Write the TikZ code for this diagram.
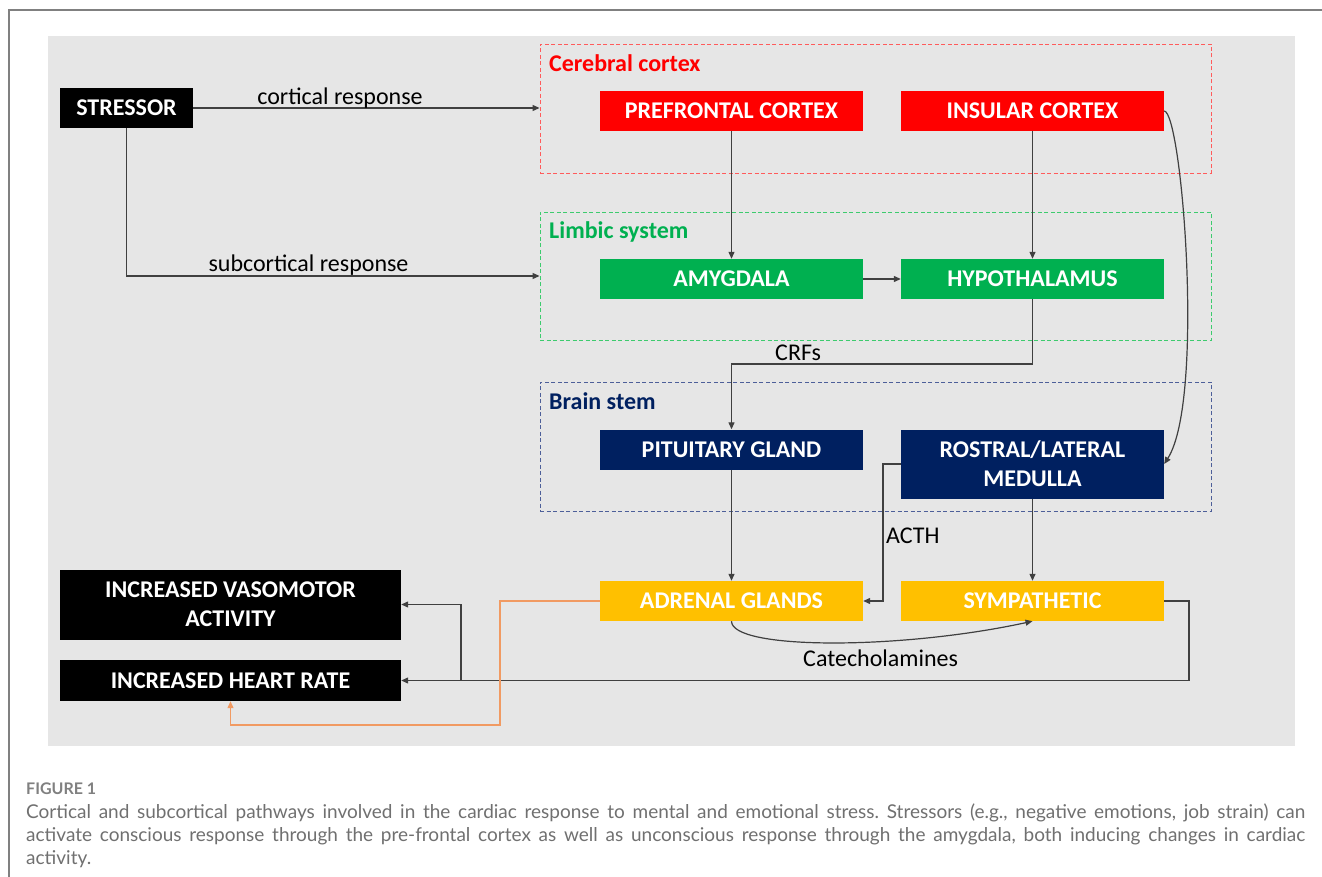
\documentclass[tikz,border=0pt]{standalone}
\usepackage{fontspec}
\setmainfont{Carlito}
\newfontfamily\capfont{Lato}
\usetikzlibrary{arrows.meta}
\definecolor{bggray}{HTML}{E6E6E6}
\definecolor{framegray}{HTML}{808080}
\definecolor{linec}{HTML}{404040}
\definecolor{cred}{HTML}{FF0000}
\definecolor{cgreen}{HTML}{00B050}
\definecolor{cnavy}{HTML}{002060}
\definecolor{cgold}{HTML}{FFC000}
\definecolor{dred}{HTML}{FF5B5B}
\definecolor{dgreen}{HTML}{3DCB6E}
\definecolor{dnavy}{HTML}{4D5F99}
\definecolor{corange}{HTML}{F19A62}
\definecolor{capgray}{HTML}{707070}
\begin{document}
\frenchspacing
\begin{tikzpicture}[x=1pt,y=-1pt,
  box/.style={inner sep=0pt, minimum width=263pt, minimum height=40pt, text=white,
    font=\fontsize{24}{29}\selectfont\bfseries, align=center},
  grp/.style={draw, dash pattern=on 4pt off 2.5pt, line width=0.9pt,
    minimum width=671pt, minimum height=129pt, inner sep=0pt},
  grplbl/.style={font=\fontsize{24}{29}\selectfont\bfseries, inner sep=0pt, anchor=base west},
  conn/.style={draw=linec, line width=1.2pt, -{Triangle[length=7pt,width=6pt]}},
  oconn/.style={draw=corange, line width=1.2pt, -{Triangle[length=7pt,width=6pt]}},
  lbl/.style={font=\fontsize{24}{29}\selectfont, text=black, inner sep=0pt},
  captxt/.style={anchor=base west, inner sep=0pt, text=capgray, font=\capfont\fontsize{19}{22}\selectfont}]
\useasboundingbox (0,0) rectangle (1322,877);
\fill[white] (0,0) rectangle (1322,877);
\draw[framegray, line width=1.2pt] (9,877) -- (9,10) -- (1322,10);
\fill[bggray] (48,36) rectangle (1295,746);

% groups
\node[grp, draw=dred] (cer) at (875.5,108.5) {};
\node[grp, draw=dgreen, minimum height=128pt] (lim) at (875.5,276) {};
\node[grp, draw=dnavy] (bst) at (875.5,446.5) {};
\node[grplbl, text=cred] (cerl) at (549,72) {Cerebral cortex};
\node[grplbl, text=cgreen] (liml) at (549,239) {Limbic system};
\node[grplbl, text=cnavy] (bstl) at (549,409) {Brain stem};

% nodes
\node[box, fill=black, minimum width=133pt] (stressor) at (126.5,108) {STRESSOR};
\node[box, fill=cred] (pfc) at (731.5,111) {PREFRONTAL CORTEX};
\node[box, fill=cred] (ins) at (1032.5,111) {INSULAR CORTEX};
\node[box, fill=cgreen] (amy) at (731.5,279) {AMYGDALA};
\node[box, fill=cgreen] (hyp) at (1032.5,279) {HYPOTHALAMUS};
\node[box, fill=cnavy] (pit) at (731.5,449.5) {PITUITARY GLAND};
\node[box, fill=cnavy, minimum height=69pt] (med) at (1032.5,464) {ROSTRAL/LATERAL\\MEDULLA};
\node[box, fill=cgold] (adr) at (731.5,601) {ADRENAL GLANDS};
\node[box, fill=cgold] (sym) at (1032.5,601) {SYMPATHETIC};
\node[box, fill=black, minimum width=341pt, minimum height=70pt] (vaso) at (230.5,604.5) {INCREASED VASOMOTOR\\ACTIVITY};
\node[box, fill=black, minimum width=341pt, minimum height=41pt] (hr) at (230.5,680.5) {INCREASED HEART RATE};

% helper coordinates
\coordinate (crf) at (1032.5,364);
\coordinate (acth) at (883,464);
\coordinate (symr) at (1189,601);
\coordinate (br) at (461,680.5);
\coordinate (o1) at (500,725);

% connectors
\draw[conn] (stressor.east) -- (stressor.east -| cer.west);
\draw[conn] (stressor.south) |- (lim.west);
\draw[conn] (pfc.south) -- (amy.north);
\draw[conn] (ins.south) -- (hyp.north);
\draw[conn] (amy.east) -- (hyp.west);
\draw[conn] (ins.east) .. controls (1182,112) and (1205,400) .. (med.east);
\draw[conn] (hyp.south) -- (crf) -| (pit.north);
\draw[conn] (pit.south) -- (adr.north);
\draw[conn] (med.west) -- (acth) |- (adr.east);
\draw[conn] (med.south) -- (sym.north);
\draw[conn] (adr.south) .. controls (731.5,650) and (900,650) .. (sym.south);
\draw[conn] (sym.east) -- (symr) |- (hr.east);
\draw[conn] (br) |- (vaso.east);
\draw[oconn] (adr.west) -| (o1) -| (hr.south);

% labels
\node[lbl, anchor=base] (lcort) at (340,105) {cortical response};
\node[lbl, anchor=base] (lsub) at (308.5,272) {subcortical response};
\node[lbl, anchor=base west] (lcrf) at (775,360) {CRFs};
\node[lbl, anchor=base west] (lacth) at (886,543) {ACTH};
\node[lbl, anchor=base west] (lcat) at (803,666) {Catecholamines};

% caption
\node[captxt, font=\capfont\bfseries\fontsize{16}{18}\selectfont, text=framegray] (fig) at (26,794) {FIGURE 1};
\node[captxt] (c1) at (26,818) {\makebox[1279pt][s]{Cortical and subcortical pathways involved in the cardiac response to mental and emotional stress. Stressors (e.g., negative emotions, job strain) can}};
\node[captxt] (c2) at (26,841) {\makebox[1279pt][s]{activate conscious response through the pre-frontal cortex as well as unconscious response through the amygdala, both inducing changes in cardiac}};
\node[captxt] (c3) at (26,864) {activity.};
\end{tikzpicture}
\end{document}
